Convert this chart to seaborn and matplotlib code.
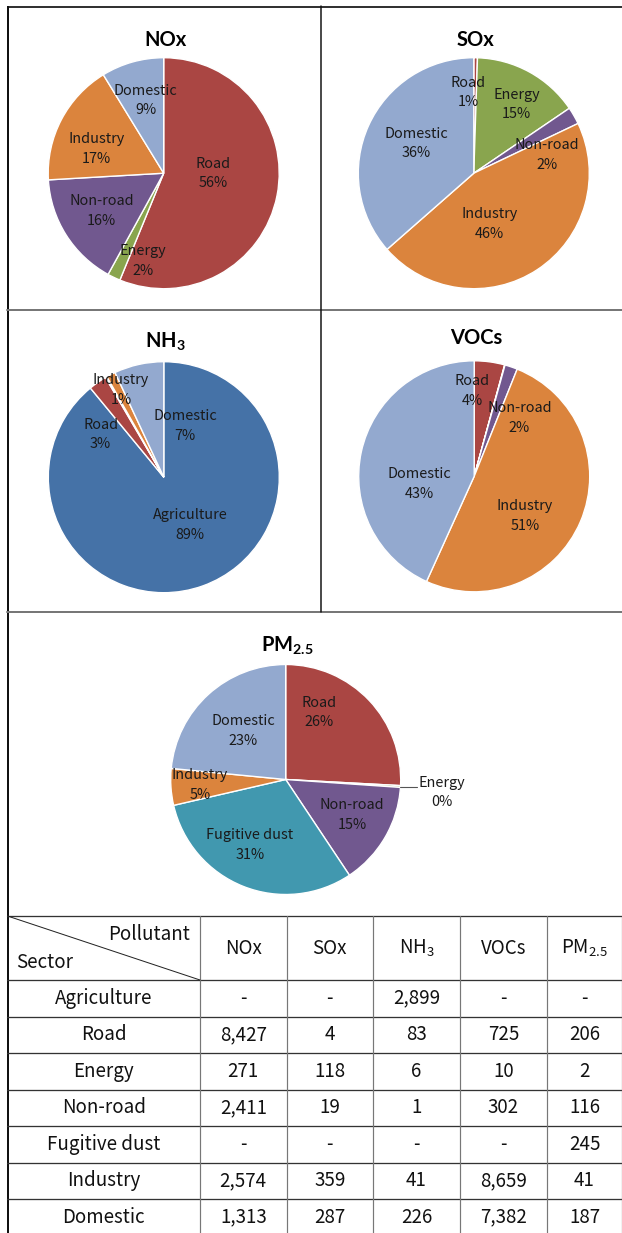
import numpy as np
import matplotlib
matplotlib.use('Agg')
import matplotlib.pyplot as plt
import seaborn as sns

# data (kt/yr), same sector order as the table
sectors = ['Agriculture', 'Road', 'Energy', 'Non-road', 'Fugitive dust', 'Industry', 'Domestic']
nox = [0, 8427, 271, 2411, 0, 2574, 1313]
sox = [0, 4, 118, 19, 0, 359, 287]
nh3 = [2899, 83, 6, 1, 0, 41, 226]
vocs = [0, 725, 10, 302, 0, 8659, 7382]
pm25 = [0, 206, 2, 116, 245, 41, 187]

pollutants = ['NOx', 'SOx', 'NH$_3$', 'VOCs', 'PM$_{2.5}$']

sector_colors = {
    'Agriculture': '#4572A7',
    'Road': '#AA4643',
    'Energy': '#89A54E',
    'Non-road': '#71588F',
    'Fugitive dust': '#4198AF',
    'Industry': '#DB843D',
    'Domestic': '#93A9CF',
}

sns.set_theme(style='white')
plt.rcParams['font.family'] = ['Noto Sans CJK KR', 'DejaVu Sans']
plt.rcParams['mathtext.default'] = 'regular'

W, H = 622, 1233
fig = plt.figure(figsize=(W / 100, H / 100), dpi=100)

# background axes in pixel coords for frame lines and table
bg = fig.add_axes([0, 0, 1, 1])
bg.set_xlim(0, W)
bg.set_ylim(H, 0)
bg.axis('off')

def px(v):
    return v * 72 / 100  # pixels -> points

bg.plot([7, W], [6.5, 6.5], color='#333333', lw=px(2), solid_capstyle='butt')
bg.plot([7.5, 7.5], [6, H], color='#111111', lw=px(2), solid_capstyle='butt')
bg.plot([7, W], [310, 310], color='#777777', lw=px(2))
bg.plot([7, W], [612, 612], color='#777777', lw=px(2))
bg.plot([320.5, 320.5], [6, 612], color='#111111', lw=px(1.5))

# label placement tweaks: (radius, angle shift from wedge middle)
nudges = {
    'NOx': {'Road': (0.43, 11), 'Energy': (0.78, 12), 'Non-road': (0.63, -1),
            'Industry': (0.62, 8), 'Domestic': (0.65, -2)},
    'SOx': {'Road': (0.70, 5), 'Energy': (0.70, -3), 'Non-road': (0.65, -16),
            'Industry': (0.46, -16), 'Domestic': (0.56, -3)},
    'NH$_3$': {'Agriculture': (0.47, 9), 'Road': (0.66, 21), 'Industry': (0.84, -1),
               'Domestic': (0.48, -35)},
    'VOCs': {'Road': (0.74, 9), 'Non-road': (0.64, -19), 'Industry': (0.56, -15),
             'Domestic': (0.475, 20)},
    'PM$_{2.5}$': {'Road': (0.65, 20), 'Non-road': (0.654, 2), 'Fugitive dust': (0.65, -7),
                   'Industry': (0.747, 0), 'Domestic': (0.56, -1)},
}
outside = {'PM$_{2.5}$': ['Energy']}

# pie centres / radius in pixels, title position
pies = [
    ('NOx', nox, 163.7, 173.2, 115.5, 40),
    ('SOx', sox, 473.8, 173.2, 115.5, 40),
    ('NH$_3$', nh3, 163.8, 477.2, 115.5, 342),
    ('VOCs', vocs, 474.2, 476.3, 115.5, 338),
    ('PM$_{2.5}$', pm25, 285.7, 779.5, 115.0, 646),
]

lab_font = dict(fontsize=10.4, color='#1a1a1a', linespacing=1.5)

for name, vals, cx, cy, r, ty in pies:
    ax = fig.add_axes([(cx - r) / W, 1 - (cy + r) / H, 2 * r / W, 2 * r / H])
    keep = [i for i, v in enumerate(vals) if v > 0]
    v = np.array([vals[i] for i in keep], dtype=float)
    names = [sectors[i] for i in keep]
    wedges, _ = ax.pie(v, colors=[sector_colors[n] for n in names], startangle=90,
                       counterclock=False, radius=1,
                       wedgeprops=dict(edgecolor='white', linewidth=1.0))
    ax.set_xlim(-1, 1)
    ax.set_ylim(-1, 1)
    ax.set_aspect('equal')
    total = v.sum()
    for w, n, val in zip(wedges, names, v):
        pct = f"{int(round(100 * val / total))}%"
        mid = (w.theta1 + w.theta2) / 2
        if n in nudges[name]:
            rr, dt = nudges[name][n]
            a = np.deg2rad(mid + dt)
            ax.text(rr * np.cos(a), rr * np.sin(a), f"{n}\n{pct}", ha='center', va='center',
                    **lab_font)
        elif n in outside.get(name, []):
            a = np.deg2rad(mid)
            x0, y0 = np.cos(a), np.sin(a)
            ax.plot([x0, x0 + 0.14], [y0, y0], color='#555555', lw=0.8, clip_on=False)
            ax.text(x0 + 0.155, y0 - 0.05, f"{n}\n{pct}", ha='left', va='center',
                    multialignment='center', **lab_font)
    bg.text(cx + 2, ty, name, ha='center', va='center', fontsize=14.5,
            fontweight='bold', family=['Lato', 'DejaVu Sans'], color='black')

# ---- table ----
xs = [7.5, 200, 286.5, 373, 460, 547, 622]
ys = [916, 980, 1016.5, 1053, 1089.5, 1126, 1162.5, 1199, 1235.5]
cols = [nox, sox, nh3, vocs, pm25]

for y in ys[:-1]:
    bg.plot([7, W], [y, y], color='#333333', lw=px(1.3))
for x in xs[1:]:
    bg.plot([x, x], [916, H], color='#777777', lw=px(1.2))
bg.plot([xs[0], xs[1]], [ys[0], ys[1]], color='#222222', lw=px(1))

tf = dict(fontsize=13.5, color='#111111')
bg.text(190, 935, 'Pollutant', ha='right', va='center', **tf)
bg.text(16, 963, 'Sector', ha='left', va='center', **tf)
for j, p in enumerate(pollutants):
    bg.text((xs[j + 1] + xs[j + 2]) / 2, 948, p, ha='center', va='center', **tf)

for i, s in enumerate(sectors):
    yc = (ys[i + 1] + ys[i + 2]) / 2
    bg.text((xs[0] + xs[1]) / 2, yc, s, ha='center', va='center', **tf)
    for j, col in enumerate(cols):
        val = col[i]
        txt = f"{val:,}" if val > 0 else '-'
        bg.text((xs[j + 1] + xs[j + 2]) / 2, yc, txt, ha='center', va='center', **tf)

fig.savefig('out.png', dpi=100)
